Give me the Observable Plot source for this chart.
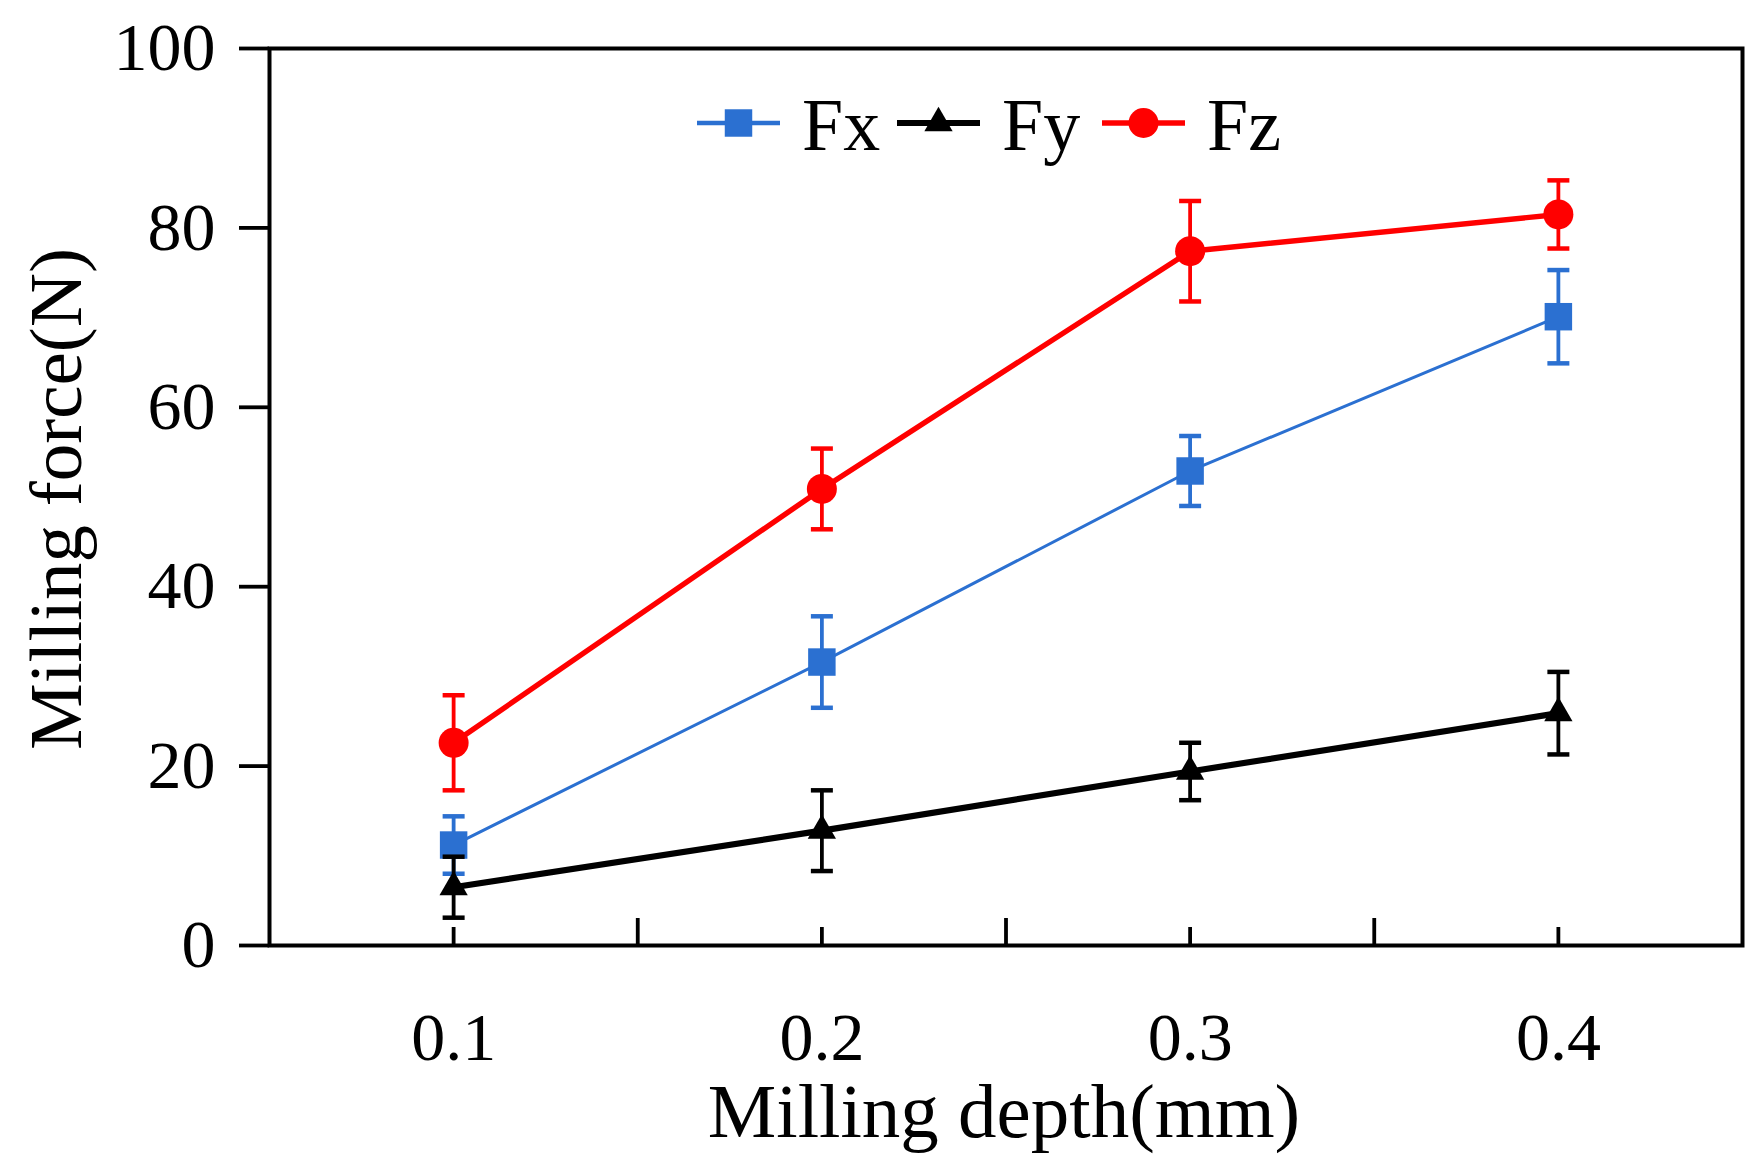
<!DOCTYPE html>
<html>
<head>
<meta charset="utf-8">
<script src="https://cdn.jsdelivr.net/npm/d3@7"></script>
<script src="https://cdn.jsdelivr.net/npm/@observablehq/plot@0.6"></script>
<style>
  html, body { margin: 0; padding: 0; background: #fff; }
  #chart { position: relative; width: 1757px; height: 1176px; }
  svg { font-family: "Liberation Serif", serif; }
</style>
</head>
<body>
<div id="chart"></div>
<script>
// ---- data ----
const depths = [0.1, 0.2, 0.3, 0.4];
const fxMean = [11.2, 31.6, 52.9, 70.1];
const fxErr  = [3.2, 5.1, 3.9, 5.2];
const fyMean = [6.5, 12.8, 19.4, 25.9];
const fyErr  = [3.4, 4.5, 3.2, 4.6];
const fzMean = [22.6, 50.9, 77.4, 81.5];
const fzErr  = [5.3, 4.5, 5.6, 3.8];
const seriesNames  = ["Fx", "Fy", "Fz"];
const seriesColors = ["#2b70d1", "#000000", "#ff0000"];
const xMajorTicks = [0.1, 0.2, 0.3, 0.4];
const xMinorTicks = [0.15, 0.25, 0.35];
const yTicks = [0, 20, 40, 60, 80, 100];
const xTitle = "Milling depth(mm)";
const yTitle = "Milling force(N)";

// ---- build tables ----
const means = [fxMean, fyMean, fzMean];
const errs = [fxErr, fyErr, fzErr];
const series = seriesNames.map((name, i) => ({
  name, color: seriesColors[i],
  rows: depths.map((d, j) => ({x: d, y: means[i][j], lo: means[i][j] - errs[i][j], hi: means[i][j] + errs[i][j]}))
}));

const style = {
  Fx: {line: 3, symbol: "square", r: 15.5},
  Fy: {line: 6.2, symbol: "triangle", r: 10.5},
  Fz: {line: 5.4, symbol: "circle", r: 15}
};

const cap = { draw(ctx) { ctx.moveTo(-11, 0); ctx.lineTo(11, 0); } };

const marks = [];
for (const s of series) {
  const st = style[s.name];
  marks.push(Plot.ruleX(s.rows, {x: "x", y1: "lo", y2: "hi", stroke: s.color, strokeWidth: 3.8}));
  marks.push(Plot.dot(s.rows, {x: "x", y: "lo", symbol: cap, fill: "none", stroke: s.color, strokeWidth: 4.5}));
  marks.push(Plot.dot(s.rows, {x: "x", y: "hi", symbol: cap, fill: "none", stroke: s.color, strokeWidth: 4.5}));
  marks.push(Plot.line(s.rows, {x: "x", y: "y", stroke: s.color, strokeWidth: st.line}));
  marks.push(Plot.dot(s.rows, {x: "x", y: "y", symbol: st.symbol, r: st.r, fill: s.color, stroke: "none"}));
}

const chart = Plot.plot({
  width: 1757,
  height: 1176,
  marginLeft: 269,
  marginRight: 15,
  marginTop: 48,
  marginBottom: 231,
  style: {fontFamily: '"Liberation Serif", serif', color: "#000", background: "#fff"},
  x: {domain: [0.05, 0.45]},
  y: {domain: [0, 100]},
  marks: [
    Plot.axisY({ticks: yTicks, tickSize: 30, tickPadding: 24, fontSize: 68, strokeWidth: 3.8, label: null}),
    Plot.axisX({ticks: xMajorTicks, tickSize: 0, tickPadding: 66, fontSize: 68, label: null, tickFormat: d => d.toFixed(1)}),
    Plot.axisX({anchor: "top", frameAnchor: "bottom", ticks: xMajorTicks, tickSize: 19, strokeWidth: 3.8, tickFormat: () => "", label: null}),
    Plot.axisX({anchor: "top", frameAnchor: "bottom", ticks: xMinorTicks, tickSize: 28, strokeWidth: 3.8, tickFormat: () => "", label: null}),
    ...marks,
    Plot.frame({stroke: "#000", strokeWidth: 4})
  ]
});

document.getElementById("chart").appendChild(chart);

// ---- titles and legend ----
const svg = d3.select(chart);
svg.append("text")
  .attr("x", 1004).attr("y", 1137)
  .attr("text-anchor", "middle")
  .attr("font-size", 77).attr("fill", "#000")
  .text(xTitle);
svg.append("text")
  .attr("transform", "translate(81,499) rotate(-90)")
  .attr("text-anchor", "middle")
  .attr("font-size", 75).attr("fill", "#000")
  .text(yTitle);

const legendX = [697, 897, 1102];
const legendY = 123;
const legendLineLen = 83;
series.forEach((s, i) => {
  const st = style[s.name];
  const x0 = legendX[i];
  const g = svg.append("g");
  g.append("line")
    .attr("x1", x0).attr("x2", x0 + legendLineLen)
    .attr("y1", legendY).attr("y2", legendY)
    .attr("stroke", s.color).attr("stroke-width", Math.max(st.line, 4.5));
  const symType = {square: d3.symbolSquare, triangle: d3.symbolTriangle, circle: d3.symbolCircle}[st.symbol];
  g.append("path")
    .attr("transform", `translate(${x0 + legendLineLen / 2},${legendY})`)
    .attr("d", d3.symbol(symType, Math.PI * st.r * st.r)())
    .attr("fill", s.color);
  g.append("text")
    .attr("x", x0 + legendLineLen + 22).attr("y", 150)
    .attr("text-anchor", "start")
    .attr("font-size", 74).attr("fill", "#000")
    .text(s.name);
});
</script>
</body>
</html>
